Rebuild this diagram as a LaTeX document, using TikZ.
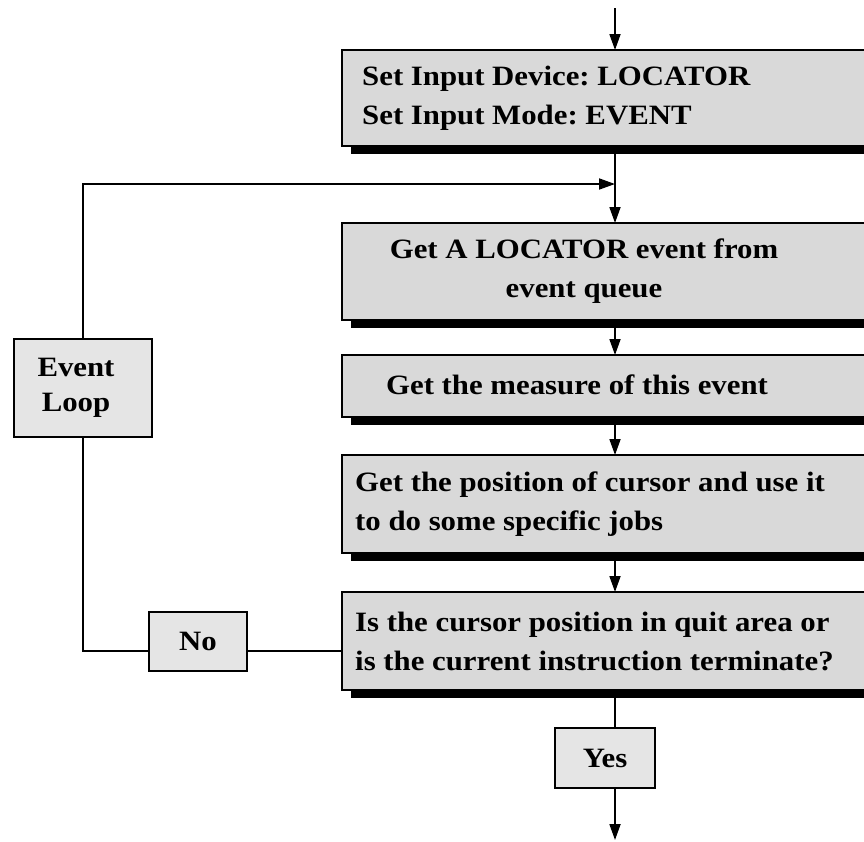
\documentclass[tikz,border=0pt]{standalone}
\usepackage{fontspec}
\setmainfont{Liberation Serif}[FakeStretch=1.1]
\frenchspacing
\usetikzlibrary{arrows.meta,shadows}
\begin{document}
\begin{tikzpicture}[x=1pt,y=-1pt,
  every node/.style={font=\bfseries\fontsize{28}{39}\selectfont},
  mainbox/.style={draw, line width=2.4pt, fill=gray!30, anchor=north west,
    minimum width=546pt, inner sep=0pt, outer sep=0pt,
    drop shadow={shadow xshift=9pt, shadow yshift=-8pt, fill=black, opacity=1}},
  smallbox/.style={draw, line width=2.2pt, fill=gray!20, inner sep=0pt, outer sep=0pt, align=center},
  txt/.style={inner sep=0pt},
  conn/.style={line width=1.8pt},
  arr/.style={conn, -{Triangle[length=16pt,width=11pt]}}
]
\useasboundingbox (0,0) rectangle (864,841);
\clip (0,0) rectangle (864,841);

% main column of steps
\node[mainbox, minimum height=96pt] (b1) at (342,50) {};
\node[mainbox, minimum height=97pt] (b2) at (342,223) {};
\node[mainbox, minimum height=62pt] (b3) at (342,355) {};
\node[mainbox, minimum height=98pt] (b4) at (342,455) {};
\node[mainbox, minimum height=98pt] (b5) at (342,592) {};

\node[txt, anchor=west, align=left] (t1) at ([xshift=20pt]b1.west) {Set Input Device: LOCATOR\\Set Input Mode: EVENT};
\node[txt, align=center] (t2) at (584,271) {Get A LOCATOR event from\\event queue};
\node[txt, align=center] (t3) at (577,385) {Get the measure of this event};
\node[txt, anchor=west, align=left] (t4) at ([xshift=13pt]b4.west) {Get the position of cursor and use it\\to do some specific jobs};
\node[txt, anchor=west, align=left] (t5) at ([xshift=13pt]b5.west) {Is the cursor position in quit area or\\is the current instruction terminate?};

% loop and branch labels
\node[smallbox, minimum width=138pt, minimum height=98pt] (el) at (83,388) {};
\node[txt, align=center, font=\bfseries\fontsize{28}{35}\selectfont] (elt) at (76,388) {Event\\Loop};
\node[smallbox, minimum width=98pt, minimum height=59pt] (no) at (198,641.5) {No};
\node[smallbox, minimum width=100pt, minimum height=60pt] (yes) at (605,758) {Yes};

% connectors
\coordinate (start) at (b1.north |- 0,8);
\coordinate (join) at (b1.north |- 0,184);
\coordinate (finish) at (b1.north |- 0,840);
\draw[arr] (start) -- (b1.north);
\draw[conn] (b1.south) -- (join);
\draw[arr] (join) -- (b2.north);
\draw[arr] (b2.south) -- (b3.north);
\draw[arr] (b3.south) -- (b4.north);
\draw[arr] (b4.south) -- (b5.north);
\draw[conn] (b5.south) -- (b5.south |- yes.north);
\draw[arr] (b5.south |- yes.south) -- (finish);
\draw[conn] ([yshift=-10pt]b5.west) -- ([yshift=-10pt]b5.west -| no.east);
\draw[conn] ([yshift=-10pt]b5.west -| no.west) -| (el.south);
\draw[arr] (el.north) |- (join);
\end{tikzpicture}
\end{document}
